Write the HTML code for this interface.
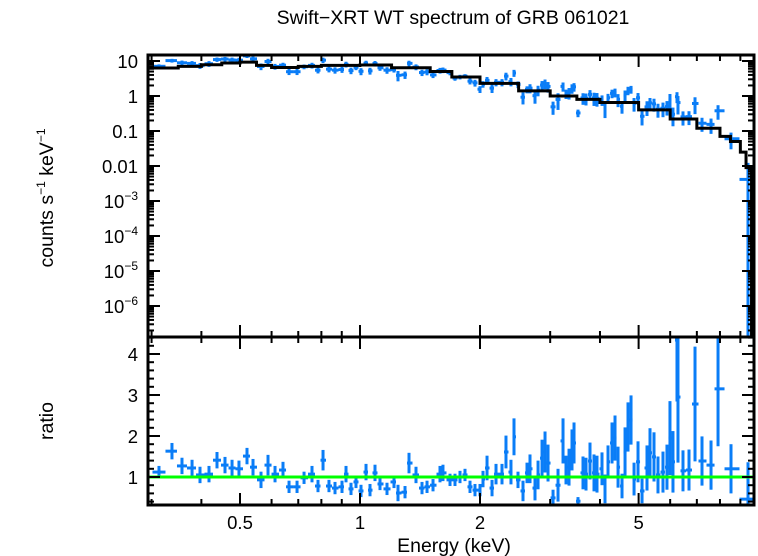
<!DOCTYPE html>
<html><head><meta charset="utf-8"><style>
html,body{margin:0;padding:0;background:#fff;}
svg{display:block;font-family:"Liberation Sans",sans-serif;}
</style></head><body>
<svg id="chart" width="758" height="556" viewBox="0 0 758 556" xmlns="http://www.w3.org/2000/svg">
<text x="453" y="24" font-size="19.5" text-anchor="middle">Swift−XRT WT spectrum of GRB 061021</text>
<text x="454" y="552" font-size="19.5" text-anchor="middle">Energy (keV)</text>
<text transform="translate(53,198) rotate(-90)" font-size="19.5" text-anchor="middle">counts s<tspan dy="-8" font-size="12">−1</tspan><tspan dy="8"> keV</tspan><tspan dy="-8" font-size="12">−1</tspan></text>
<text transform="translate(53,421) rotate(-90)" font-size="19.5" text-anchor="middle">ratio</text>
<g id="g"></g>
</svg>
<script>
const modelE = [0.29,0.35,0.4,0.45,0.5,0.55,0.6,0.7,0.8,1.0,1.2,1.5,1.7,2.0,2.5,3.0,3.5,4,5,6,7,8,8.5,9,9.3,9.6,9.8];
const modelV = [6.3,7,7.8,8.8,9.3,7.5,6.5,7,7.5,7.7,6.4,5,3.5,2.3,1.4,1.0,0.8,0.65,0.4,0.22,0.12,0.07,0.05,0.025,0.009,1e-7,1e-7];
const energies = [0.3131,0.3375,0.3576,0.379,0.3968,0.418,0.4378,0.4585,0.4775,0.497,0.5206,0.539,0.5645,0.5878,0.6121,0.641,0.6637,0.6951,0.7238,0.7578,0.7845,0.8077,0.8359,0.8656,0.9013,0.9224,0.9493,0.9772,1.0058,1.0354,1.0595,1.0905,1.1225,1.1687,1.217,1.2455,1.297,1.3273,1.382,1.4307,1.4728,1.5247,1.5875,
1.615,1.682,1.731,1.782,1.834,1.888,1.943,2.0,2.035,2.083,2.144,2.194,2.271,2.324,2.392,2.434,2.491,2.564,2.624,2.67,2.748,2.797,2.862,2.912,2.963,3.05,3.139,3.231,3.287,3.345,3.403,3.443,3.523,3.626,3.69,3.776,3.864,3.932,4.047,4.118,4.19,4.288,4.363,4.44,4.543,4.623,4.703,4.786,4.87,4.983,5.1,5.248,5.34,5.465,5.592,5.756,5.89,5.993,6.098,6.241,6.277,6.461,6.689,6.926,7.211,7.597,7.911,8.527,9.406];
const ratios = [1.12,1.63,1.27,1.22,1.05,1.07,1.41,1.29,1.22,1.2,1.51,1.24,0.93,1.29,1.07,1.17,0.76,0.76,0.98,1.07,0.78,1.41,0.78,0.73,0.76,1.07,0.71,0.88,0.66,1.12,0.68,1.1,0.83,0.71,0.88,0.61,0.63,1.34,1.05,0.73,0.76,0.8,1.07,
1.1,0.93,0.93,1.0,1.05,0.76,0.68,0.68,0.95,1.22,0.73,1.07,1.07,1.61,1.12,1.98,0.93,0.66,1.1,1.2,0.73,1.05,1.46,1.61,1.34,0.49,0.8,1.88,1.17,1.24,1.66,1.83,0.41,1.1,1.07,1.39,1.1,1.07,1.2,0.71,1.37,1.83,1.95,1.24,0.78,1.61,2.22,2.39,0.95,1.37,0.66,1.22,1.59,1.49,1.05,1.12,1.24,1.95,1.37,4.34,2.95,1.15,1.17,2.78,1.39,1.29,3.15,1.2,0.46];
const errs = [0.15,0.2,0.2,0.2,0.2,0.2,0.2,0.2,0.2,0.2,0.2,0.2,0.2,0.25,0.2,0.2,0.15,0.15,0.15,0.2,0.15,0.25,0.15,0.15,0.15,0.2,0.15,0.15,0.15,0.2,0.15,0.2,0.15,0.15,0.15,0.2,0.15,0.25,0.2,0.15,0.15,0.15,0.2,
0.2,0.15,0.15,0.15,0.15,0.15,0.15,0.15,0.2,0.3,0.2,0.25,0.25,0.4,0.3,0.45,0.2,0.25,0.25,0.35,0.3,0.35,0.45,0.5,0.45,0.2,0.4,0.55,0.35,0.45,0.5,0.5,0.1,0.4,0.4,0.45,0.45,0.45,0.4,0.35,0.4,0.5,0.55,0.5,0.3,0.6,0.6,0.6,0.4,0.5,0.3,0.55,0.6,0.6,0.45,0.5,0.55,0.9,0.75,1.5,1.6,0.5,0.5,1.4,0.6,0.6,1.4,0.6,0.9];
const xTicksMajor = [0.5,1,2,5];
const xTicksMinor = [0.3,0.4,0.6,0.7,0.8,0.9,3,4,6,7,8,9];
const yTopTicks = [1,0,-1,-2,-3,-4,-5,-6];
const yTopLabels = ["10","1","0.1","0.01","10|−3","10|−4","10|−5","10|−6"];
const ratioTicks = [1,2,3,4];

const NS="http://www.w3.org/2000/svg";
const G=document.getElementById('g');
const L=148,R=754,T=55,M=337,B=505;
const xs=e=>360+Math.log10(e)*398.6;
const yt=v=>61-(Math.log10(v)-1)*35;
const yr=r=>477-(r-1)*41;
function el(tag,attrs,name,parent){const n=document.createElementNS(NS,tag);for(const k in attrs)n.setAttribute(k,attrs[k]);


(parent||G).appendChild(n);return n;}
function line(x1,y1,x2,y2,c,w,name,p){return el('line',{x1,y1,x2,y2,stroke:c,'stroke-width':w},name,p);}
const clipT=el('clipPath',{id:'ct'},'clip-top');el('rect',{x:L,y:T,width:R-L,height:M-T},'clip-rect',clipT);
const clipB=el('clipPath',{id:'cb'},'clip-bottom');el('rect',{x:L,y:M,width:R-L,height:B-M},'clip-rect',clipB);
const gt=el('g',{'clip-path':'url(#ct)'},'top-plot-area');
const gb=el('g',{'clip-path':'url(#cb)'},'ratio-plot-area');
let d='';
for(let i=0;i<modelE.length-1;i++){const x0=xs(modelE[i]),x1=xs(modelE[i+1]),y=yt(modelV[i]);d+=(i?'L':'M')+x0+','+y+'L'+x1+','+y;}
function modelAt(e){for(let i=modelE.length-2;i>=0;i--)if(e>=modelE[i])return modelV[i];return modelV[0];}
const blue='#0a7df7';
for(let i=0;i<energies.length;i++){
 const e=energies[i];
 const lo=i?Math.sqrt(energies[i-1]*e):e*e/Math.sqrt(e*energies[i+1]);
 const hi=i<energies.length-1?Math.sqrt(energies[i+1]*e):e*Math.min(1.04,e/lo);
 const r=ratios[i],er=errs[i];
 line(xs(lo),yr(r),xs(hi),yr(r),blue,3,'ratio-xerr',gb);
 line(xs(e),yr(r-er),xs(e),yr(r+er),blue,3,'ratio-yerr',gb);
 const c=modelAt(e)*r, f=er/r;
 const lowF=f>=1?1e-9:Math.max(1-f,0.3);
 line(xs(lo),yt(c),xs(hi),yt(c),blue,3,'data-xerr',gt);
 line(xs(e),yt(c*lowF),xs(e),yt(c*(1+f)),blue,3,'data-yerr',gt);
}
el('path',{d,fill:'none',stroke:'#000','stroke-width':3},'model-line',gt);
line(L,yr(1),R,yr(1),'#00ff00',3,'unity-line',gb);
el('rect',{x:L,y:T,width:R-L,height:B-T,fill:'none',stroke:'#000','stroke-width':3},'plot-frame');
line(L,M,R,M,'#000',3,'panel-divider');
xTicksMajor.forEach(v=>{const x=xs(v);
 [[T,T+12],[M-12,M+12],[B-12,B]].forEach(s=>line(x,s[0],x,s[1],'#000',2,'x-major-tick'));
 const t=el('text',{x,y:529,'font-size':18.5,'text-anchor':'middle'},'x-tick-label');t.textContent=String(v);});
xTicksMinor.forEach(v=>{const x=xs(v);
 [[T,T+6],[M-6,M+6],[B-6,B]].forEach(s=>line(x,s[0],x,s[1],'#000',2,'x-minor-tick'));});
yTopTicks.forEach((p,i)=>{const y=yt(Math.pow(10,p));
 line(L,y,L+12,y,'#000',2,'y-major-tick');line(R-12,y,R,y,'#000',2,'y-major-tick');
 for(let k=2;k<10;k++){const ym=yt(k*Math.pow(10,p-1));if(ym<M&&ym>T){line(L,ym,L+6,ym,'#000',2,'y-minor-tick');line(R-6,ym,R,ym,'#000',2,'y-minor-tick');}}
 const parts=yTopLabels[i].split('|');
 const t=el('text',{x:138,y:y+7,'font-size':18.5,'text-anchor':'end'},'y-tick-label');
 if(parts.length>1){t.textContent=parts[0];const s=document.createElementNS(NS,'tspan');s.setAttribute('dy','-8');s.setAttribute('font-size','12');s.textContent=parts[1];t.appendChild(s);}
 else t.textContent=parts[0];
});
ratioTicks.forEach(v=>{const y=yr(v);
 line(L,y,L+12,y,'#000',2,'ratio-major-tick');line(R-12,y,R,y,'#000',2,'ratio-major-tick');
 const t=el('text',{x:138,y:y+7,'font-size':18.5,'text-anchor':'end'},'ratio-tick-label');t.textContent=String(v);});
for(let v=0.4;v<4.45;v+=0.2){const y=yr(v);if(Math.abs(v-Math.round(v))>0.05){line(L,y,L+6,y,'#000',2,'ratio-minor-tick');line(R-6,y,R,y,'#000',2,'ratio-minor-tick');}}
</script>
</body></html>
